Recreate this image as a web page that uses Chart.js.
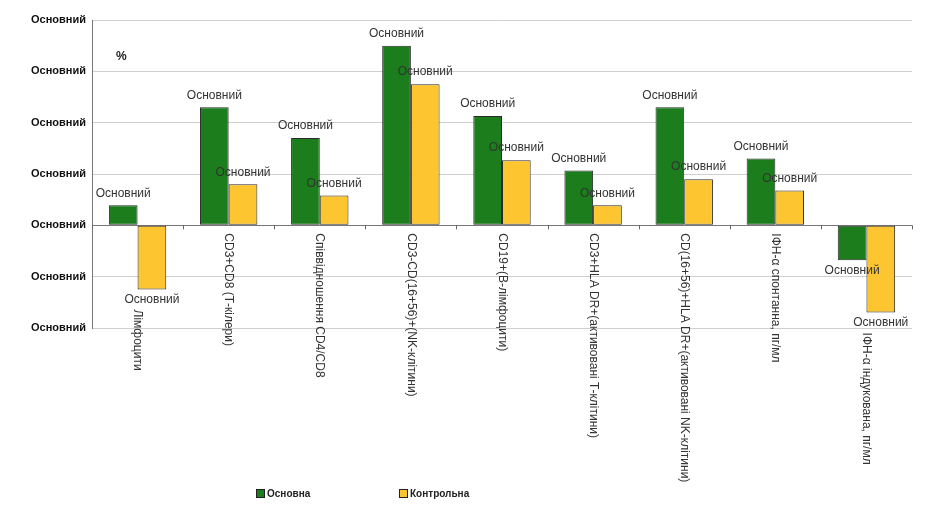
<!DOCTYPE html>
<html>
<head>
<meta charset="utf-8">
<script src="https://cdn.jsdelivr.net/npm/chart.js@4"></script>
<style>
  body { margin: 0; background: #fff; }
  #wrap { width: 937px; height: 522px; }
</style>
</head>
<body>
<div id="wrap"><canvas id="chart"></canvas></div>
<script>
const categories = [
  "Лімфоцити",
  "CD3+CD8 (Т-кілери)",
  "Співвідношення CD4/CD8",
  "CD3-CD(16+56)+(NK-клітини)",
  "CD19+(В-лімфоцити)",
  "CD3+HLA DR+(активовані Т-клітини)",
  "CD(16+56)+HLA DR+(активовані NK-клітини)",
  "ІФН-α спонтанна, пг/мл",
  "ІФН-α індукована, пг/мл"
];
const mainValues = [0.39, 2.3, 1.7, 3.5, 2.13, 1.07, 2.3, 1.3, -0.68];
const controlValues = [-1.25, 0.8, 0.58, 2.75, 1.27, 0.39, 0.9, 0.68, -1.7];
const seriesNames = ["Основна", "Контрольна"];
const tickLabel = "Основний";
const pointLabel = "Основний";

const extras = {
  id: "extras",
  afterDatasetsDraw(chart) {
    const ctx = chart.ctx;
    const y = chart.scales.y;
    const zero = y.getPixelForValue(0);
    ctx.save();
    // value labels
    ctx.font = "12px Arial, 'Liberation Sans'";
    ctx.fillStyle = "#333";
    ctx.textAlign = "center";
    chart.data.datasets.forEach((ds, di) => {
      chart.getDatasetMeta(di).data.forEach((bar, i) => {
        const v = ds.data[i];
        if (v >= 0) {
          ctx.textBaseline = "bottom";
          ctx.fillText(pointLabel, bar.x, bar.y - 6);
        } else {
          ctx.textBaseline = "top";
          ctx.fillText(pointLabel, bar.x, bar.y + 4);
        }
      });
    });
    // category labels, rotated
    const m0 = chart.getDatasetMeta(0).data;
    const m1 = chart.getDatasetMeta(1).data;
    ctx.textAlign = "left";
    ctx.textBaseline = "middle";
    categories.forEach((c, i) => {
      const x = (m0[i].x + m1[i].x) / 2;
      const low = Math.max(zero, m0[i].y, m1[i].y);
      const start = low > zero ? low + 20 : zero + 8;
      ctx.save();
      ctx.translate(x, start);
      ctx.rotate(Math.PI / 2);
      ctx.fillText(c, 0, 0);
      ctx.restore();
    });
    // tick marks on zero line
    ctx.strokeStyle = "#666";
    ctx.lineWidth = 1;
    const area = chart.chartArea;
    const step = (area.right - area.left) / categories.length;
    for (let k = 0; k <= categories.length; k++) {
      const x = Math.round(area.left + k * step) + 0.5;
      ctx.beginPath();
      ctx.moveTo(x, zero);
      ctx.lineTo(x, zero + 4);
      ctx.stroke();
    }
    // "%" label
    ctx.font = "bold 12px Arial, 'Liberation Sans'";
    ctx.fillStyle = "#222";
    ctx.textBaseline = "middle";
    ctx.fillText("%", 116, 57);
    // legend
    const legendX = [256, 399];
    ctx.font = "bold 10px Arial, 'Liberation Sans'";
    chart.data.datasets.forEach((ds, di) => {
      ctx.fillStyle = ds.backgroundColor;
      ctx.strokeStyle = "#222";
      ctx.fillRect(legendX[di], 489, 8, 8);
      ctx.strokeRect(legendX[di] + 0.5, 489.5, 8, 8);
      ctx.fillStyle = "#222";
      ctx.fillText(ds.label, legendX[di] + 11, 494);
    });
    ctx.restore();
  }
};

new Chart(document.getElementById("chart"), {
  type: "bar",
  data: {
    labels: categories,
    datasets: [
      { label: seriesNames[0], data: mainValues, backgroundColor: "#1b7d1b", borderColor: "#2a2a2a", borderWidth: 1, borderSkipped: false },
      { label: seriesNames[1], data: controlValues, backgroundColor: "#fdc631", borderColor: "#2a2a2a", borderWidth: 1, borderSkipped: false }
    ]
  },
  options: {
    responsive: true,
    maintainAspectRatio: false,
    animation: false,
    layout: { padding: { top: 20, right: 25, bottom: 194, left: 0 } },
    plugins: { legend: { display: false }, tooltip: { enabled: false } },
    datasets: { bar: { categoryPercentage: 0.63, barPercentage: 1 } },
    scales: {
      x: { display: false },
      y: {
        min: -2, max: 4,
        afterFit(s) { s.width = 92; },
        ticks: {
          stepSize: 1,
          padding: 6,
          color: "#111",
          font: { family: "Arial, 'Liberation Sans'", size: 11, weight: "bold" },
          callback: () => tickLabel
        },
        grid: {
          color: (c) => c.tick && c.tick.value === 0 ? "#777" : "#cfcfcf",
          drawTicks: false
        },
        border: { color: "#777" }
      }
    }
  },
  plugins: [extras]
});
</script>
</body>
</html>
